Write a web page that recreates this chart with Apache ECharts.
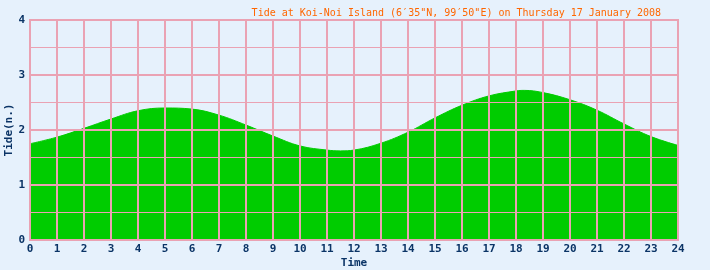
<!DOCTYPE html>
<html>
<head>
<meta charset="utf-8">
<script src="https://cdn.jsdelivr.net/npm/echarts@6/dist/echarts.min.js"></script>
<style>
html,body{margin:0;padding:0;background:#e6f1fc;}
#chart{width:710px;height:270px;}
</style>
</head>
<body>
<div id="chart"></div>
<script>
var titleText = 'Tide at Koi-Noi Island (6\u203235"N, 99\u203250"E) on Thursday 17 January 2008';
var hours = [0,1,2,3,4,5,6,7,8,9,10,11,11.5,12,13,14,15,16,17,18,18.3,19,20,21,22,23,24];
var tide  = [1.75,1.87,2.03,2.2,2.35,2.4,2.38,2.27,2.09,1.89,1.71,1.635,1.62,1.635,1.76,1.96,2.22,2.45,2.62,2.71,2.72,2.68,2.55,2.36,2.11,1.88,1.72];
var xTicks = [0,1,2,3,4,5,6,7,8,9,10,11,12,13,14,15,16,17,18,19,20,21,22,23,24];
var yTicks = [0,1,2,3,4];

var pink = '#eaa2b3';
var labelColor = '#0b3466';
var mono = '"DejaVu Sans Mono", "Liberation Mono", monospace';

var chart = echarts.init(document.getElementById('chart'), null, {renderer:'canvas'});
chart.setOption({
  backgroundColor: '#e6f1fc',
  animation: false,
  title: {
    text: titleText,
    right: 44, top: 3,
    textStyle: {color:'#ff6600', fontFamily: mono, fontSize: 10, fontWeight: 'normal'}
  },
  grid: {left: 30, right: 32, top: 20, bottom: 30, containLabel: false, outerBoundsMode: 'none',
         show: true, borderColor: pink, borderWidth: 2, z: 6},
  xAxis: {
    type: 'value', min: 0, max: 24, interval: 1, z: 5,
    name: 'Time', nameLocation: 'middle', nameGap: 18, nameMoveOverlap: false,
    nameTextStyle: {color: labelColor, fontFamily: mono, fontSize: 11, fontWeight: 'bold'},
    axisLine: {show: false}, axisTick: {show: false},
    axisLabel: {color: labelColor, fontFamily: mono, fontSize: 11, fontWeight: 'bold', margin: 4,
      formatter: function(v){ return xTicks.indexOf(v) >= 0 ? String(v) : ''; }},
    splitLine: {show: true, lineStyle: {color: pink, width: 2}}
  },
  yAxis: {
    type: 'value', min: 0, max: 4, interval: 1, z: 5,
    name: 'Tide(n.)', nameLocation: 'middle', nameGap: 15, nameRotate: 90, nameMoveOverlap: false,
    nameTextStyle: {color: labelColor, fontFamily: mono, fontSize: 11, fontWeight: 'bold'},
    axisLine: {show: false}, axisTick: {show: false},
    axisLabel: {color: labelColor, fontFamily: mono, fontSize: 11, fontWeight: 'bold', margin: 5,
      formatter: function(v){ return yTicks.indexOf(v) >= 0 ? String(v) : ''; }},
    splitLine: {show: true, lineStyle: {color: pink, width: 2}},
    minorTick: {show: false, splitNumber: 2},
    minorSplitLine: {show: true, lineStyle: {color: pink, width: 1}}
  },
  series: [{
    type: 'line', z: 1,
    data: hours.map(function(h, i){ return [h, tide[i]]; }),
    smooth: 0.4, showSymbol: false, symbol: 'none',
    lineStyle: {color: '#00cc00', width: 1},
    areaStyle: {color: '#00cc00', opacity: 1}
  }]
});
</script>
</body>
</html>
